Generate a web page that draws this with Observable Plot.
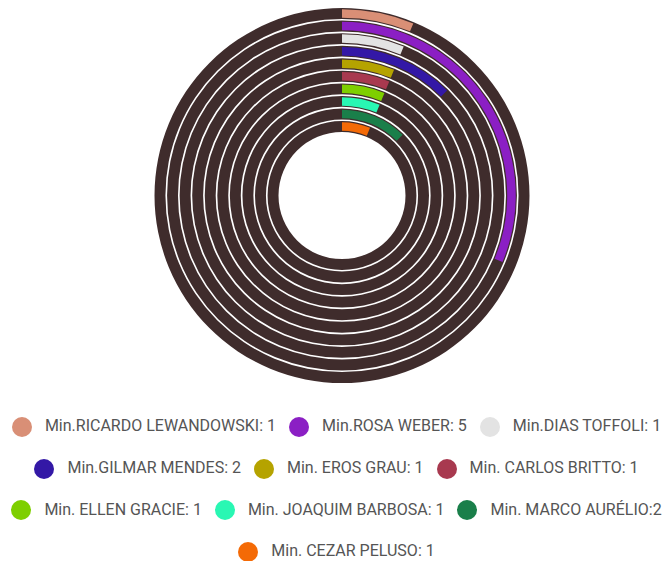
<!DOCTYPE html>
<html>
<head>
<meta charset="utf-8">
<script src="https://cdn.jsdelivr.net/npm/d3@7"></script>
<script src="https://cdn.jsdelivr.net/npm/@observablehq/plot@0.6"></script>
<style>
  html, body { margin: 0; padding: 0; background: #fff; }
  #chart { width: 667px; }
  #chart svg { display: block; }
  .legend {
    width: 661px;
    padding-left: 6px;
    display: flex;
    flex-wrap: wrap;
    justify-content: center;
    column-gap: 13px;
    font-family: Roboto, sans-serif;
    font-size: 16px;
    color: #555;
  }
  .legend .item {
    display: flex;
    align-items: center;
    height: 41.7px;
    white-space: nowrap;
  }
  .legend .dot {
    width: 20px;
    height: 20px;
    border-radius: 50%;
    margin-right: 13px;
    flex: none;
  }
  .legend .label { position: relative; top: -1px; }
</style>
</head>
<body>
<div id="chart"></div>
<script>
// Ministers, outermost ring first
const names = [
  "Min.RICARDO LEWANDOWSKI",
  "Min.ROSA WEBER",
  "Min.DIAS TOFFOLI",
  "Min.GILMAR MENDES",
  "Min. EROS GRAU",
  "Min. CARLOS BRITTO",
  "Min. ELLEN GRACIE",
  "Min. JOAQUIM BARBOSA",
  "Min. MARCO AURÉLIO",
  "Min. CEZAR PELUSO"
];
const values = [1, 5, 1, 2, 1, 1, 1, 1, 2, 1];
const colors = [
  "#d98f76", "#8b1fc4", "#e3e3e3", "#3318a6", "#b5a300",
  "#a8394f", "#7ecf00", "#29f7b3", "#1a7f4a", "#f46a06"
];
// separator between name and count in the legend text
const separators = [": ", ": ", ": ", ": ", ": ", ": ", ": ", ": ", ":", ": "];

const trackColor = "#3f2c2c";
const outerRadius = 187.5;
const innerRadius = 63.5;
const barInset = 1.2;

const data = names.map((name, i) => ({name, value: values[i], color: colors[i]}));
const total = d3.sum(values);

// Draws each bar as an annular sector: x (already in radians) gives the angle,
// y (a band scale whose range is in radii) gives the ring.
function radialRender(fillOf, inset) {
  return (index, scales, vals, dims) => {
    const cx = dims.marginLeft + (dims.width - dims.marginLeft - dims.marginRight) / 2;
    const cy = dims.marginTop + (dims.height - dims.marginTop - dims.marginBottom) / 2;
    const bw = scales.y.bandwidth();
    const arc = d3.arc();
    const g = d3.create("svg:g").attr("transform", `translate(${cx},${cy})`);
    g.selectAll("path")
      .data(Array.from(index))
      .join("path")
      .attr("d", i => arc({
        innerRadius: vals.y[i] + inset,
        outerRadius: vals.y[i] + bw - inset,
        startAngle: vals.x1[i],
        endAngle: vals.x2[i]
      }))
      .attr("fill", i => fillOf(i, vals));
    return g.node();
  };
}

const chart = Plot.plot({
  width: 667,
  height: 406,
  marginLeft: 17,
  marginRight: 0,
  marginTop: 0,
  marginBottom: 15,
  x: {domain: [0, total], range: [0, 2 * Math.PI], axis: null},
  y: {
    type: "band",
    domain: names,
    range: [outerRadius, innerRadius],
    paddingInner: 0.13,
    paddingOuter: 0,
    round: false,
    axis: null
  },
  color: {type: "ordinal", domain: names, range: colors},
  marks: [
    // full-circle background tracks
    Plot.barX(names, {
      y: d => d,
      x1: () => 0,
      x2: () => total,
      render: radialRender(() => trackColor, 0)
    }),
    // value arcs, clockwise from 12 o'clock
    Plot.barX(data, {
      y: "name",
      x1: () => 0,
      x2: "value",
      fill: "name",
      render: radialRender((i, vals) => vals.fill[i], barInset)
    })
  ]
});

const root = document.getElementById("chart");
root.appendChild(chart);

const legend = document.createElement("div");
legend.className = "legend";
names.forEach((name, i) => {
  const item = document.createElement("div");
  item.className = "item";
  const dot = document.createElement("span");
  dot.className = "dot";
  dot.style.background = colors[i];
  const label = document.createElement("span");
  label.className = "label";
  label.textContent = name + separators[i] + values[i];
  item.append(dot, label);
  legend.appendChild(item);
});
root.appendChild(legend);
</script>
</body>
</html>
